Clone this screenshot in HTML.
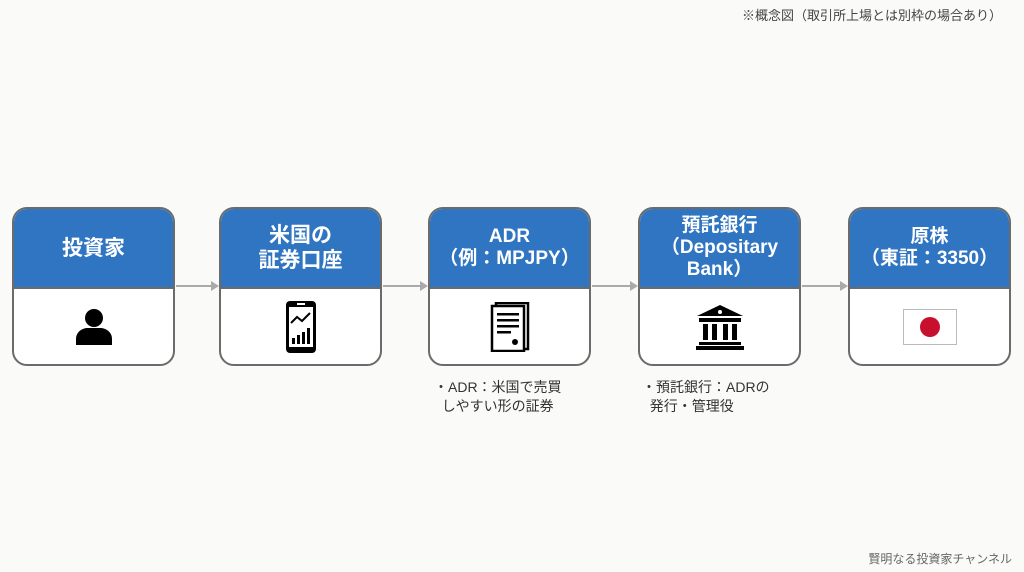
<!DOCTYPE html>
<html><head><meta charset="utf-8"><style>
body{margin:0;width:1024px;height:572px;background:#fafaf8;position:relative;overflow:hidden;font-family:"Liberation Sans","Noto Sans CJK JP",sans-serif}
.b{position:absolute;top:207px;width:159px;height:155px;border:2px solid #6b6b6b;border-radius:15px;overflow:hidden;background:#fff}
.h{height:78px;background:#2f75c1;border-bottom:2px solid #6b6b6b;color:#fff;font-weight:bold;font-size:21px;line-height:25px;display:flex;align-items:center;justify-content:center;text-align:center}
.h.s{font-size:19px;line-height:22px}
.i{height:75px;display:flex;align-items:center;justify-content:center}
.a{position:absolute;top:285px;height:2px;background:#aaa}
.a:after{content:"";position:absolute;right:-2px;top:-4px;border-left:8px solid #aaa;border-top:5px solid transparent;border-bottom:5px solid transparent}
.n{position:absolute;font-size:14px;color:#333;line-height:19px}
</style></head><body>
<div class="n" style="right:22px;top:6px;font-size:13px;color:#444">※概念図（取引所上場とは別枠の場合あり）</div>
<div class="b" style="left:12px"><div class="h">投資家</div><div class="i">
<svg width="40" height="40" viewBox="0 0 40 40"><circle cx="20" cy="11" r="9"/><path d="M2 38v-6c0-7 6-11 12-11h12c6 0 12 4 12 11v6z"/></svg></div></div>
<div class="a" style="left:176px;width:41px"></div>
<div class="b" style="left:219px"><div class="h">米国の<br>証券口座</div><div class="i">
<svg width="32" height="54" viewBox="0 0 32 54"><rect x="1" y="1" width="30" height="52" rx="4"/><rect x="4" y="7" width="24" height="40" fill="#fff"/><rect x="12" y="3" width="8" height="2" fill="#fff"/><path d="M6 23l6-6 5 4 8-8" stroke="#000" stroke-width="2" fill="none"/><rect x="7" y="38" width="3" height="6"/><rect x="12" y="35" width="3" height="9"/><rect x="17" y="32" width="3" height="12"/><rect x="22" y="28" width="3" height="16"/></svg></div></div>
<div class="a" style="left:383px;width:43px"></div>
<div class="b" style="left:428px"><div class="h s">ADR<br>（例：MPJPY）</div><div class="i">
<svg width="40" height="50" viewBox="0 0 40 50"><rect x="6" y="1" width="32" height="46" fill="#fff" stroke="#000" stroke-width="2.5"/><rect x="2" y="4" width="32" height="45" fill="#fff" stroke="#000" stroke-width="2.5"/><g fill="#000"><rect x="7" y="11" width="22" height="2.5"/><rect x="7" y="17" width="22" height="2.5"/><rect x="7" y="23" width="22" height="2.5"/><rect x="7" y="29" width="14" height="2.5"/><circle cx="25" cy="40" r="3"/></g></svg></div></div>
<div class="a" style="left:592px;width:44px"></div>
<div class="b" style="left:638px"><div class="h s">預託銀行<br>（Depositary<br>Bank）</div><div class="i">
<svg width="50" height="46" viewBox="0 0 50 46"><path d="M25 1L2 12h46z"/><circle cx="25" cy="8" r="2" fill="#fff"/><rect x="4" y="14" width="42" height="4"/><rect x="8" y="20" width="5" height="16"/><rect x="17" y="20" width="5" height="16"/><rect x="28" y="20" width="5" height="16"/><rect x="37" y="20" width="5" height="16"/><rect x="4" y="38" width="42" height="3"/><rect x="1" y="42" width="48" height="4"/></svg></div></div>
<div class="a" style="left:802px;width:44px"></div>
<div class="b" style="left:848px"><div class="h s">原株<br>（東証：3350）</div><div class="i">
<svg width="54" height="36" viewBox="0 0 54 36"><rect x="0.5" y="0.5" width="53" height="35" fill="#fff" stroke="#bbb"/><circle cx="27" cy="18" r="10" fill="#c8102e"/></svg></div></div>
<div class="n" style="left:434px;top:378px">・ADR：米国で売買<br>&nbsp;&nbsp;しやすい形の証券</div>
<div class="n" style="left:642px;top:378px">・預託銀行：ADRの<br>&nbsp;&nbsp;発行・管理役</div>
<div class="n" style="right:12px;top:550px;font-size:12px;color:#666">賢明なる投資家チャンネル</div>
</body></html>
